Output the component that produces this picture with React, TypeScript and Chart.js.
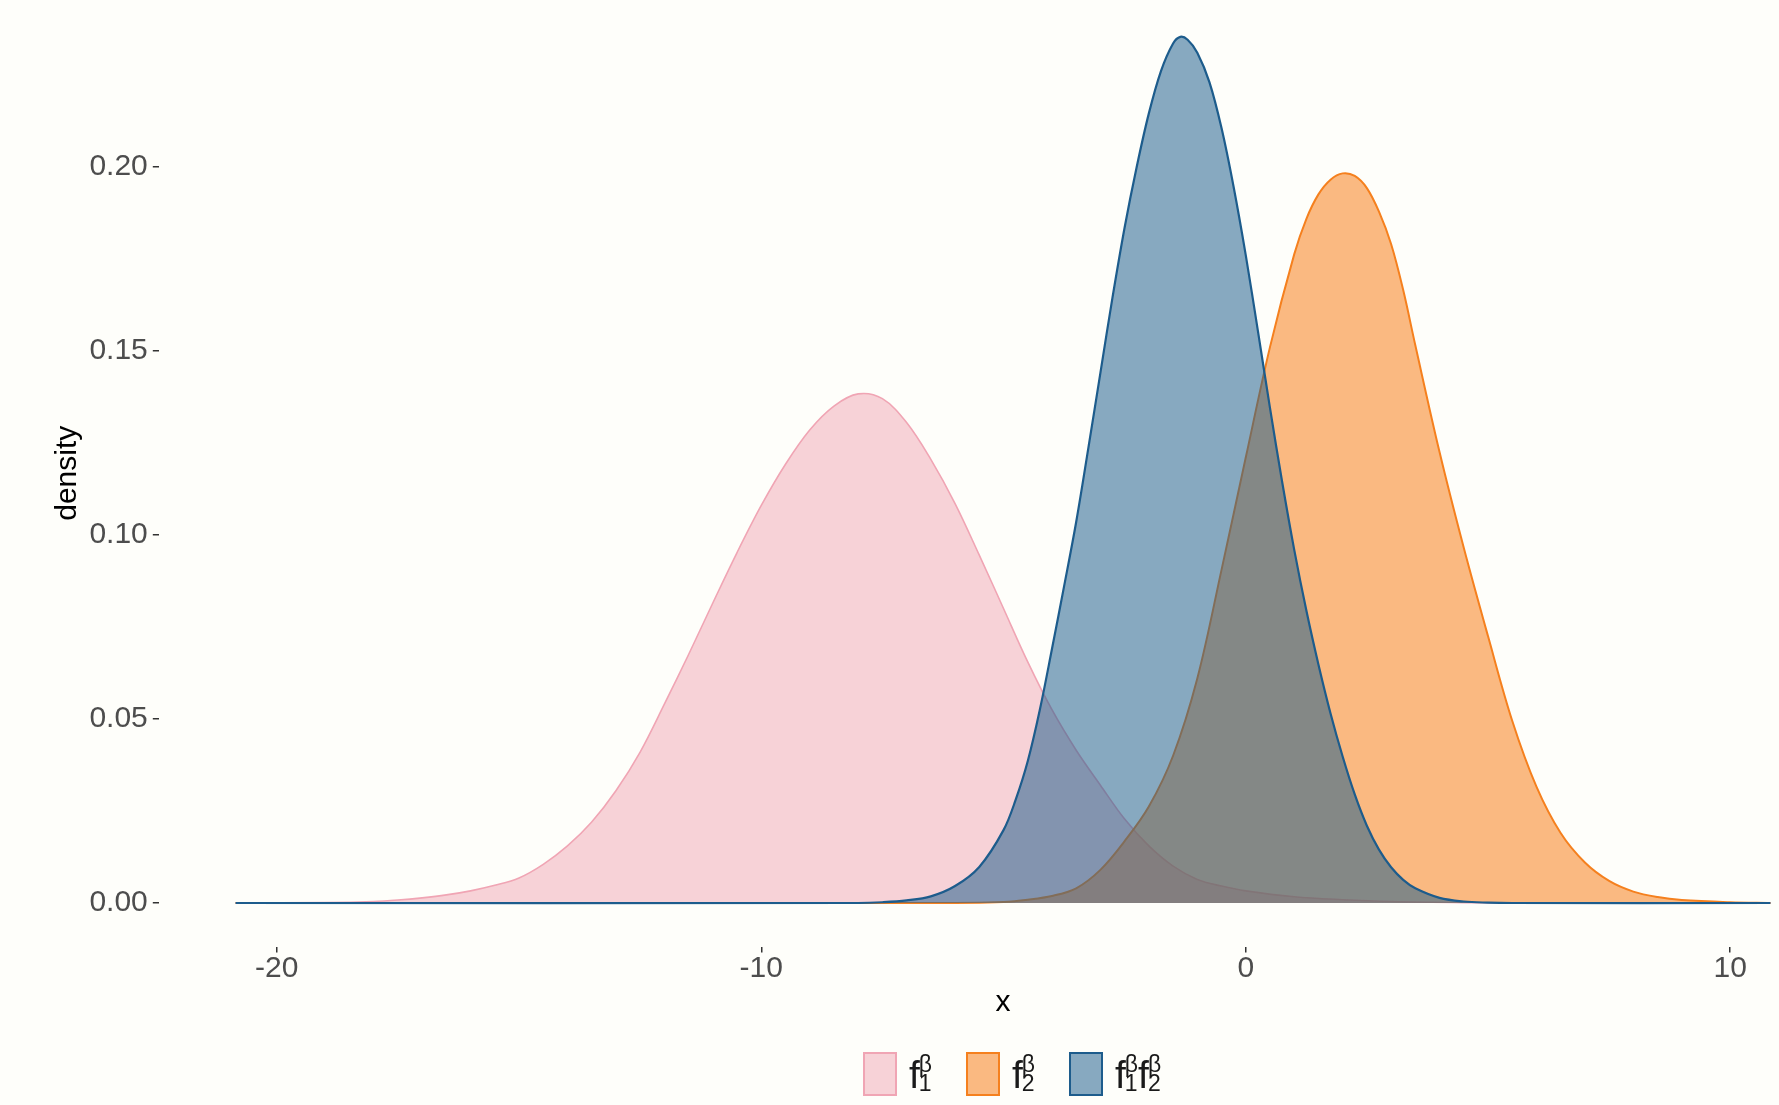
import React, { useEffect, useRef } from "react";
import { Chart, registerables } from "chart.js";

Chart.register(...registerables);

// f1^beta (pink)
const f1X = [-20.85, -19.0, -18.0, -17.5, -17.0, -16.5, -16.0, -15.5, -15.0, -14.5, -14.0, -13.5, -13.0, -12.5, -12.0, -11.5, -11.0, -10.5, -10.0, -9.5, -9.0, -8.5, -8.0, -7.5, -7.0, -6.5, -6.0, -5.5, -5.0, -4.5, -4.0, -3.5, -3.0, -2.5, -2.0, -1.5, -1.0, -0.5, 0.0, 1.0, 2.0, 3.0, 4.5, 6.0, 10.83];
const f1Y = [0, 0.0001, 0.0004, 0.0008, 0.0014, 0.0022, 0.0033, 0.0048, 0.0068, 0.0105, 0.0155, 0.0220, 0.0305, 0.0410, 0.0540, 0.0675, 0.0815, 0.0952, 0.1080, 0.1192, 0.1285, 0.1350, 0.1383, 0.1370, 0.1305, 0.1205, 0.1085, 0.0945, 0.0800, 0.0655, 0.0525, 0.0415, 0.0320, 0.0228, 0.0155, 0.0100, 0.0064, 0.0046, 0.0033, 0.0017, 0.0009, 0.0004, 0.0001, 0, 0];

// f2^beta (orange)
const f2X = [-20.85, -6.0, -5.0, -4.5, -4.0, -3.5, -3.0, -2.5, -2.0, -1.5, -1.0, -0.5, 0.0, 0.5, 1.0, 1.25, 1.5, 1.75, 2.0, 2.25, 2.5, 2.75, 3.0, 3.25, 3.5, 4.0, 4.5, 5.0, 5.5, 6.0, 6.5, 7.0, 7.5, 8.0, 8.5, 9.0, 10.0, 10.83];
const f2Y = [0, 0, 0.0003, 0.0009, 0.0019, 0.0040, 0.0090, 0.0168, 0.0262, 0.0400, 0.0610, 0.0905, 0.1210, 0.1510, 0.1762, 0.1858, 0.1925, 0.1965, 0.1982, 0.1975, 0.1942, 0.1878, 0.1790, 0.1665, 0.1515, 0.1225, 0.0965, 0.0725, 0.0495, 0.0316, 0.0190, 0.0110, 0.0060, 0.0031, 0.0016, 0.0008, 0.0002, 0];

// f1^beta f2^beta (blue)
const prodX = [-20.85, -8.0, -7.5, -7.0, -6.5, -6.0, -5.5, -5.0, -4.75, -4.5, -4.25, -4.0, -3.75, -3.5, -3.25, -3.0, -2.75, -2.5, -2.25, -2.0, -1.75, -1.5, -1.35, -1.2, -1.0, -0.75, -0.5, -0.25, 0.0, 0.25, 0.5, 0.75, 1.0, 1.25, 1.5, 1.75, 2.0, 2.25, 2.5, 2.75, 3.0, 3.25, 3.5, 4.0, 4.5, 5.0, 5.5, 10.83];
const prodY = [0, 0, 0.0002, 0.0007, 0.0018, 0.0046, 0.0098, 0.0198, 0.0280, 0.0385, 0.0525, 0.0690, 0.0860, 0.1035, 0.1235, 0.1440, 0.1645, 0.1835, 0.2000, 0.2145, 0.2260, 0.2335, 0.2353, 0.2345, 0.2310, 0.2230, 0.2105, 0.1945, 0.1760, 0.1555, 0.1345, 0.1145, 0.0960, 0.0795, 0.0648, 0.0515, 0.0398, 0.0295, 0.0210, 0.0145, 0.0097, 0.0063, 0.0040, 0.0014, 0.0004, 0.0001, 0, 0];

const xTicks = [-20, -10, 0, 10];
const yTicks = [0, 0.05, 0.1, 0.15, 0.2];

const FONT = "'Liberation Sans', Arial, Helvetica, sans-serif";
const BG = "#FEFEFA";

const PINK = { line: "rgb(240,165,180)", fill: "rgba(240,165,180,0.5)" };
const ORANGE = { line: "rgb(245,128,30)", fill: "rgba(245,128,30,0.55)" };
const BLUE = { line: "rgb(29,92,140)", fill: "rgba(29,92,140,0.53)" };

const toPts = (xs: number[], ys: number[]) => xs.map((x, i) => ({ x, y: ys[i] }));

function FLabel({ sub }: { sub: string }) {
  return (
    <span style={{ display: "inline-flex", alignItems: "center" }}>
      <span style={{ fontSize: 39, lineHeight: "39px" }}>f</span>
      <span
        style={{
          display: "inline-flex",
          flexDirection: "column",
          fontSize: 23,
          lineHeight: "19px",
          marginLeft: -1,
        }}
      >
        <span>β</span>
        <span>{sub}</span>
      </span>
    </span>
  );
}

const legendItems = [
  { left: 863, colors: PINK, subs: ["1"] },
  { left: 966, colors: ORANGE, subs: ["2"] },
  { left: 1069, colors: BLUE, subs: ["1", "2"] },
];

export default function App() {
  const ref = useRef<HTMLCanvasElement | null>(null);

  useEffect(() => {
    if (!ref.current) return;
    const common = {
      fill: "origin",
      pointRadius: 0,
      tension: 0.35,
    };
    const chart = new Chart(ref.current, {
      type: "line",
      data: {
        datasets: [
          {
            label: "f1f2",
            data: toPts(prodX, prodY),
            borderColor: BLUE.line,
            backgroundColor: BLUE.fill,
            borderWidth: 2.2,
            ...common,
          },
          {
            label: "f2",
            data: toPts(f2X, f2Y),
            borderColor: ORANGE.line,
            backgroundColor: ORANGE.fill,
            borderWidth: 2,
            ...common,
          },
          {
            label: "f1",
            data: toPts(f1X, f1Y),
            borderColor: PINK.line,
            backgroundColor: PINK.fill,
            borderWidth: 1.6,
            ...common,
          },
        ],
      },
      options: {
        animation: false,
        responsive: false,
        maintainAspectRatio: false,
        devicePixelRatio: 1,
        layout: { padding: { left: 0, right: 13, top: 0, bottom: 0 } },
        plugins: {
          legend: { display: false },
          tooltip: { enabled: false },
        },
        scales: {
          x: {
            type: "linear",
            min: -22.435,
            max: 12.41,
            border: { display: false },
            grid: {
              drawOnChartArea: false,
              drawTicks: true,
              tickLength: 6,
              tickColor: "#333333",
              lineWidth: 1.5,
            },
            ticks: {
              autoSkip: false,
              maxRotation: 0,
              padding: -2,
              color: "#4D4D4D",
              font: { family: FONT, size: 30 },
              callback: (v: any) => String(v),
            },
            afterBuildTicks: (s: any) => {
              s.ticks = xTicks.map((v) => ({ value: v }));
            },
            afterFit: (s: any) => {
              s.height = 158.5;
              s.paddingLeft = 0;
              s.paddingRight = 0;
            },
            title: {
              display: true,
              text: "x",
              color: "#000000",
              font: { family: FONT, size: 30 },
              padding: { top: 0, bottom: 84 },
            },
          },
          y: {
            type: "linear",
            min: -0.01182,
            max: 0.2453,
            border: { display: false },
            grid: {
              drawOnChartArea: false,
              drawTicks: true,
              tickLength: 6,
              tickColor: "#333333",
              lineWidth: 1.5,
            },
            ticks: {
              padding: 5,
              color: "#4D4D4D",
              font: { family: FONT, size: 30 },
              callback: (v: any) => Number(v).toFixed(2),
            },
            afterBuildTicks: (s: any) => {
              s.ticks = yTicks.map((v) => ({ value: v }));
            },
            afterFit: (s: any) => {
              s.width = 158.8;
              s.paddingTop = 0;
              s.paddingBottom = 0;
            },
            title: {
              display: true,
              text: "density",
              color: "#000000",
              font: { family: FONT, size: 30 },
              padding: { top: 50, bottom: 0 },
            },
          },
        },
      },
    });
    return () => chart.destroy();
  }, []);

  return (
    <div
      style={{
        position: "absolute",
        left: 0,
        top: 0,
        width: 1779,
        height: 1105,
        overflow: "hidden",
        background: BG,
        fontFamily: FONT,
      }}
    >
      <canvas ref={ref} width={1860} height={1105} style={{ display: "block", width: 1860, height: 1105 }} />
      {legendItems.map((it, i) => (
        <div key={i}>
          <div
            style={{
              position: "absolute",
              left: it.left,
              top: 1052,
              width: 30,
              height: 40,
              background: it.colors.fill,
              border: `2px solid ${it.colors.line}`,
            }}
          />
          <div
            style={{
              position: "absolute",
              left: it.left + 46,
              top: 1052,
              height: 44,
              display: "flex",
              alignItems: "center",
              color: "#1A1A1A",
            }}
          >
            {it.subs.map((s, j) => (
              <FLabel key={j} sub={s} />
            ))}
          </div>
        </div>
      ))}
    </div>
  );
}
